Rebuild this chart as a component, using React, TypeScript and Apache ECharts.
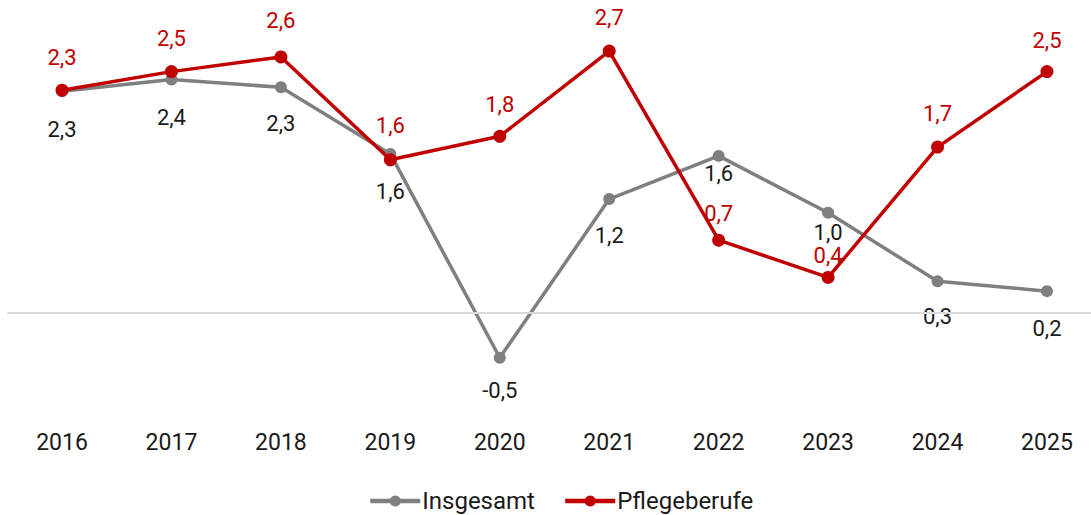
import React, { useEffect, useRef } from "react";
import * as echarts from "echarts";

const years = ["2016", "2017", "2018", "2019", "2020", "2021", "2022", "2023", "2024", "2025"];
const insgesamt = [2.26, 2.38, 2.3, 1.62, -0.46, 1.16, 1.6, 1.02, 0.32, 0.22];
const pflegeberufe = [2.27, 2.46, 2.61, 1.56, 1.8, 2.67, 0.74, 0.36, 1.69, 2.46];

// label distances (style only)
const grayDist = [21, 21, 19, 21, 16, 19, 1, 3, 18, 20];
const redDist = [15, 16, 19, 17, 14, 16, 9, 4, 16, 14];

const fmt = (v: number) => (Math.round(v * 10) / 10).toFixed(1).replace(".", ",");

export default function App() {
  const ref = useRef<HTMLDivElement>(null);
  useEffect(() => {
    if (!ref.current) return;
    const chart = echarts.init(ref.current, null, { renderer: "svg" });
    const font = "Roboto";
    chart.setOption({
      animation: false,
      textStyle: { fontFamily: font },
      grid: { left: 7.3, width: 1094.4, top: 18.7, height: 392 },
      legend: {
        left: 368,
        top: 489,
        padding: 0,
        itemWidth: 50,
        itemHeight: 14,
        itemGap: 28,
        lineStyle: { width: 4.5 },
        textStyle: { fontSize: 24, color: "#1a1a1a", fontFamily: font, padding: [0, 0, 0, -3] },
        data: ["Insgesamt", "Pflegeberufe"],
      },
      xAxis: {
        type: "category",
        data: years,
        axisLine: { show: false },
        axisTick: { show: false },
        axisLabel: { fontSize: 23, color: "#1a1a1a", margin: 20, fontFamily: font },
      },
      yAxis: {
        type: "value",
        min: -1,
        max: 3,
        interval: 1,
        show: false,
        splitLine: { show: false },
      },
      series: [
        {
          name: "Insgesamt",
          type: "line",
          data: insgesamt.map((v, i) => ({
            value: v,
            label: { distance: grayDist[i] },
          })),
          symbol: "circle",
          symbolSize: 12,
          lineStyle: { color: "#7f7f7f", width: 3.5 },
          itemStyle: { color: "#7f7f7f" },
          label: {
            show: true,
            position: "bottom",
            fontSize: 22,
            color: "#1a1a1a",
            fontFamily: font,
            formatter: (p: any) => fmt(p.value),
          },
          markLine: {
            silent: true,
            symbol: "none",
            label: { show: false },
            lineStyle: { color: "#d9d9d9", width: 2, type: "solid" },
            data: [{ yAxis: 0 }],
          },
          z: 2,
        },
        {
          name: "Pflegeberufe",
          type: "line",
          data: pflegeberufe.map((v, i) => ({
            value: v,
            label: { distance: redDist[i] },
          })),
          symbol: "circle",
          symbolSize: 13,
          lineStyle: { color: "#c00000", width: 3.5 },
          itemStyle: { color: "#c00000" },
          label: {
            show: true,
            position: "top",
            fontSize: 22,
            color: "#c00000",
            fontFamily: font,
            formatter: (p: any) => fmt(p.value),
          },
          z: 3,
        },
      ],
    });
    return () => chart.dispose();
  }, []);
  return (
    <div
      style={{ position: "absolute", left: 0, top: 0, width: 1091, height: 515, overflow: "hidden", background: "#fff" }}
    >
      <div ref={ref} style={{ width: 1110, height: 515 }} />
    </div>
  );
}
